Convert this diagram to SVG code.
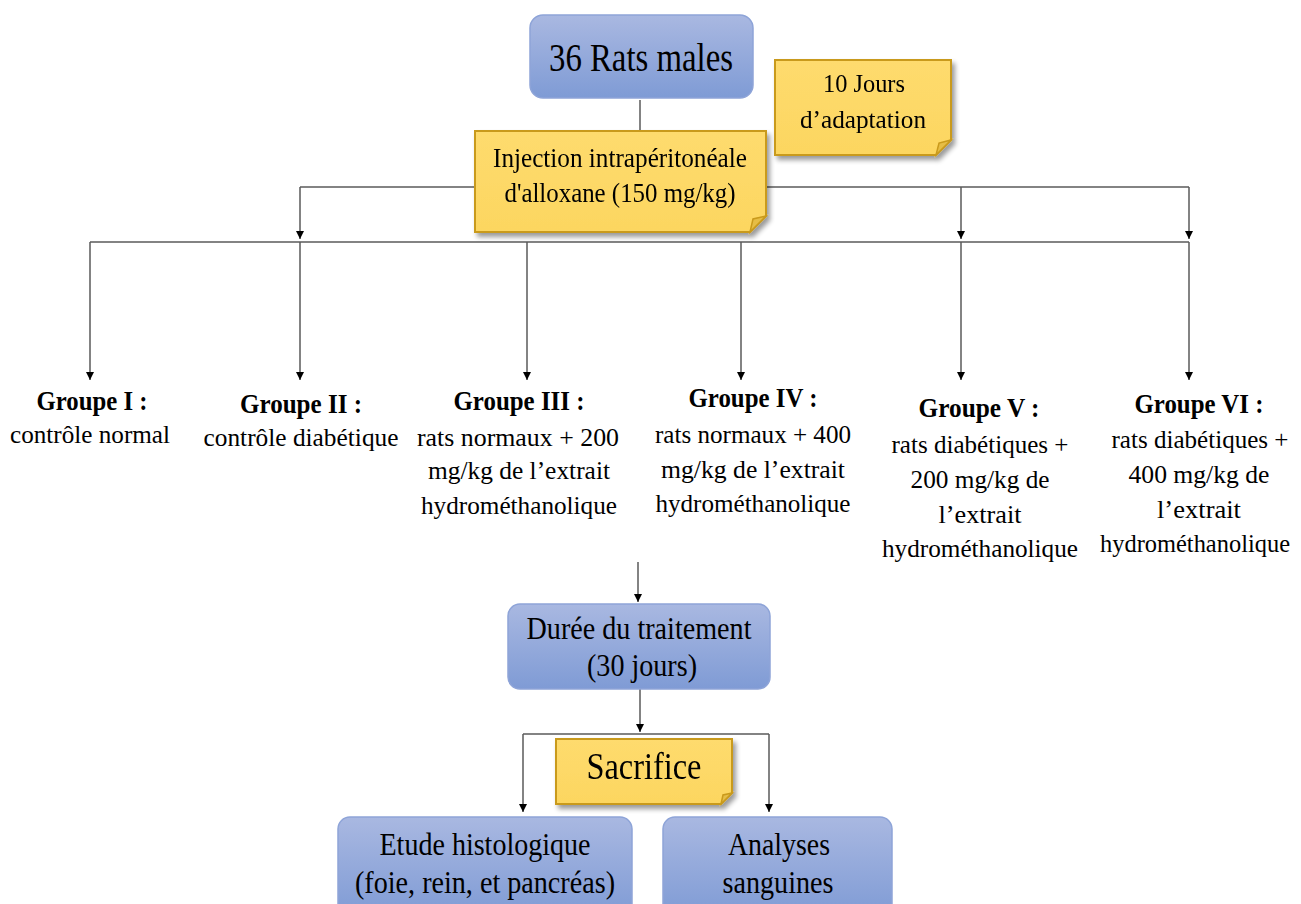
<svg xmlns="http://www.w3.org/2000/svg" width="1301" height="904" viewBox="0 0 1301 904">
  <style>
    text { font-family: "Liberation Serif", "Times New Roman", serif; fill: #000; text-anchor: middle; }
    .b { font-weight: bold; }
    .blue { fill: url(#gBlue); stroke: #8ea4d8; stroke-width: 1.5; }
    .yel { fill: url(#gYel); stroke: #c99a1c; stroke-width: 2; }
    .fold { fill: #e6bd45; stroke: #c99a1c; stroke-width: 1.5; }
    .ln { stroke: #5a5a5a; stroke-width: 1.5; fill: none; }
    .ar { stroke: #5a5a5a; stroke-width: 1.5; fill: none; marker-end: url(#ah); }
  </style>
  <defs>
    <linearGradient id="gBlue" x1="0" y1="0" x2="0" y2="1">
      <stop offset="0" stop-color="#a9b8e1"/>
      <stop offset="1" stop-color="#7f9bd5"/>
    </linearGradient>
    <linearGradient id="gYel" x1="0" y1="0" x2="0" y2="1">
      <stop offset="0" stop-color="#fedb6e"/>
      <stop offset="1" stop-color="#fcd660"/>
    </linearGradient>
    <filter id="sh" x="-10%" y="-10%" width="130%" height="140%">
      <feGaussianBlur in="SourceAlpha" stdDeviation="2.5"/>
      <feOffset dx="3" dy="4" result="o"/>
      <feComponentTransfer><feFuncA type="linear" slope="0.4"/></feComponentTransfer>
      <feMerge><feMergeNode/><feMergeNode in="SourceGraphic"/></feMerge>
    </filter>
    <marker id="ah" viewBox="0 0 10 10" refX="10" refY="5" markerUnits="userSpaceOnUse" markerWidth="8" markerHeight="10" orient="auto">
      <path d="M0,0 L10,5 L0,10 z" fill="#000"/>
    </marker>
  </defs>

  <g id="connectors">
    <line class="ln" x1="640" y1="100" x2="640" y2="131"/>
    <line class="ln" x1="300" y1="187" x2="1189" y2="187"/>
    <line class="ar" x1="300" y1="187" x2="300" y2="239"/>
    <line class="ar" x1="961" y1="187" x2="961" y2="239"/>
    <line class="ar" x1="1189" y1="187" x2="1189" y2="239"/>
    <line class="ln" x1="90" y1="242" x2="1189" y2="242"/>
    <line class="ar" x1="90" y1="242" x2="90" y2="380"/>
    <line class="ar" x1="300" y1="242" x2="300" y2="380"/>
    <line class="ar" x1="527" y1="242" x2="527" y2="380"/>
    <line class="ar" x1="741" y1="242" x2="741" y2="380"/>
    <line class="ar" x1="961" y1="242" x2="961" y2="380"/>
    <line class="ar" x1="1189" y1="242" x2="1189" y2="380"/>
    <line class="ar" x1="638" y1="562" x2="638" y2="602"/>
    <line class="ar" x1="640" y1="689" x2="640" y2="732"/>
    <line class="ln" x1="523" y1="734" x2="769" y2="734"/>
    <line class="ar" x1="523" y1="734" x2="523" y2="812"/>
    <line class="ar" x1="769" y1="734" x2="769" y2="812"/>
  </g>

  <g id="rats">
    <rect class="blue" x="530" y="15" width="223" height="83" rx="13"/>
    <text x="641" y="71" font-size="40" textLength="184" lengthAdjust="spacingAndGlyphs">36 Rats males</text>
  </g>

  <g id="injection" filter="url(#sh)">
    <path class="yel" d="M475,131 H766 V216 L750,232 H475 Z"/>
    <path class="fold" d="M766,216 L750,232 L753,219 Z"/>
    <text x="620" y="167" font-size="27" textLength="254" lengthAdjust="spacingAndGlyphs">Injection intrapéritonéale</text>
    <text x="620" y="202" font-size="27" textLength="231" lengthAdjust="spacingAndGlyphs">d'alloxane (150 mg/kg)</text>
  </g>

  <g id="adaptation" filter="url(#sh)">
    <path class="yel" d="M775,60 H951 V140 L936,155 H775 Z"/>
    <path class="fold" d="M951,140 L936,155 L939,143 Z"/>
    <text x="864" y="92" font-size="25" textLength="82" lengthAdjust="spacingAndGlyphs">10 Jours</text>
    <text x="863" y="128" font-size="25" textLength="126" lengthAdjust="spacingAndGlyphs">d’adaptation</text>
  </g>

  <g id="groupe1">
    <text class="b" x="92" y="410" font-size="27" textLength="111" lengthAdjust="spacingAndGlyphs">Groupe I :</text>
    <text x="90" y="443" font-size="26" textLength="160" lengthAdjust="spacingAndGlyphs">contrôle normal</text>
  </g>

  <g id="groupe2">
    <text class="b" x="301" y="413" font-size="27" textLength="122" lengthAdjust="spacingAndGlyphs">Groupe II :</text>
    <text x="301" y="446" font-size="26" textLength="195" lengthAdjust="spacingAndGlyphs">contrôle diabétique</text>
  </g>

  <g id="groupe3">
    <text class="b" x="519" y="410" font-size="27" textLength="131" lengthAdjust="spacingAndGlyphs">Groupe III :</text>
    <text x="518" y="446" font-size="26" textLength="202" lengthAdjust="spacingAndGlyphs">rats normaux +  200</text>
    <text x="519" y="479" font-size="26" textLength="182" lengthAdjust="spacingAndGlyphs">mg/kg de l’extrait</text>
    <text x="519" y="514" font-size="26" textLength="196" lengthAdjust="spacingAndGlyphs">hydrométhanolique</text>
  </g>

  <g id="groupe4">
    <text class="b" x="753" y="407" font-size="27" textLength="129" lengthAdjust="spacingAndGlyphs">Groupe IV :</text>
    <text x="753" y="443" font-size="26" textLength="196" lengthAdjust="spacingAndGlyphs">rats normaux + 400</text>
    <text x="753" y="478" font-size="26" textLength="184" lengthAdjust="spacingAndGlyphs">mg/kg de l’extrait</text>
    <text x="753" y="512" font-size="26" textLength="195" lengthAdjust="spacingAndGlyphs">hydrométhanolique</text>
  </g>

  <g id="groupe5">
    <text class="b" x="979" y="417" font-size="27" textLength="121" lengthAdjust="spacingAndGlyphs">Groupe V :</text>
    <text x="980" y="453" font-size="26" textLength="177" lengthAdjust="spacingAndGlyphs">rats diabétiques +</text>
    <text x="980" y="488" font-size="26" textLength="139" lengthAdjust="spacingAndGlyphs">200 mg/kg de</text>
    <text x="980" y="523" font-size="26" textLength="83" lengthAdjust="spacingAndGlyphs">l’extrait</text>
    <text x="980" y="557" font-size="26" textLength="196" lengthAdjust="spacingAndGlyphs">hydrométhanolique</text>
  </g>

  <g id="groupe6">
    <text class="b" x="1199" y="413" font-size="27" textLength="129" lengthAdjust="spacingAndGlyphs">Groupe VI :</text>
    <text x="1200" y="448" font-size="26" textLength="177" lengthAdjust="spacingAndGlyphs">rats diabétiques +</text>
    <text x="1199" y="483" font-size="26" textLength="141" lengthAdjust="spacingAndGlyphs">400 mg/kg de</text>
    <text x="1199" y="518" font-size="26" textLength="84" lengthAdjust="spacingAndGlyphs">l’extrait</text>
    <text x="1195" y="552" font-size="26" textLength="190" lengthAdjust="spacingAndGlyphs">hydrométhanolique</text>
  </g>

  <g id="duree">
    <rect class="blue" x="508" y="604" width="262" height="85" rx="12"/>
    <text x="639" y="639" font-size="31" textLength="225" lengthAdjust="spacingAndGlyphs">Durée du traitement</text>
    <text x="642" y="676" font-size="31" textLength="110" lengthAdjust="spacingAndGlyphs">(30 jours)</text>
  </g>

  <g id="sacrifice" filter="url(#sh)">
    <path class="yel" d="M556,739 H732 V793 L721,804 H556 Z"/>
    <path class="fold" d="M732,793 L721,804 L723,795 Z"/>
    <text x="644" y="779" font-size="37" textLength="115" lengthAdjust="spacingAndGlyphs">Sacrifice</text>
  </g>

  <g id="histologie">
    <rect class="blue" x="338" y="817" width="294" height="100" rx="12"/>
    <text x="485" y="855" font-size="31" textLength="211" lengthAdjust="spacingAndGlyphs">Etude histologique</text>
    <text x="485" y="893" font-size="31" textLength="260" lengthAdjust="spacingAndGlyphs">(foie, rein, et pancréas)</text>
  </g>

  <g id="analyses">
    <rect class="blue" x="663" y="817" width="229" height="100" rx="12"/>
    <text x="779" y="855" font-size="31" textLength="102" lengthAdjust="spacingAndGlyphs">Analyses</text>
    <text x="778" y="893" font-size="31" textLength="111" lengthAdjust="spacingAndGlyphs">sanguines</text>
  </g>
</svg>
